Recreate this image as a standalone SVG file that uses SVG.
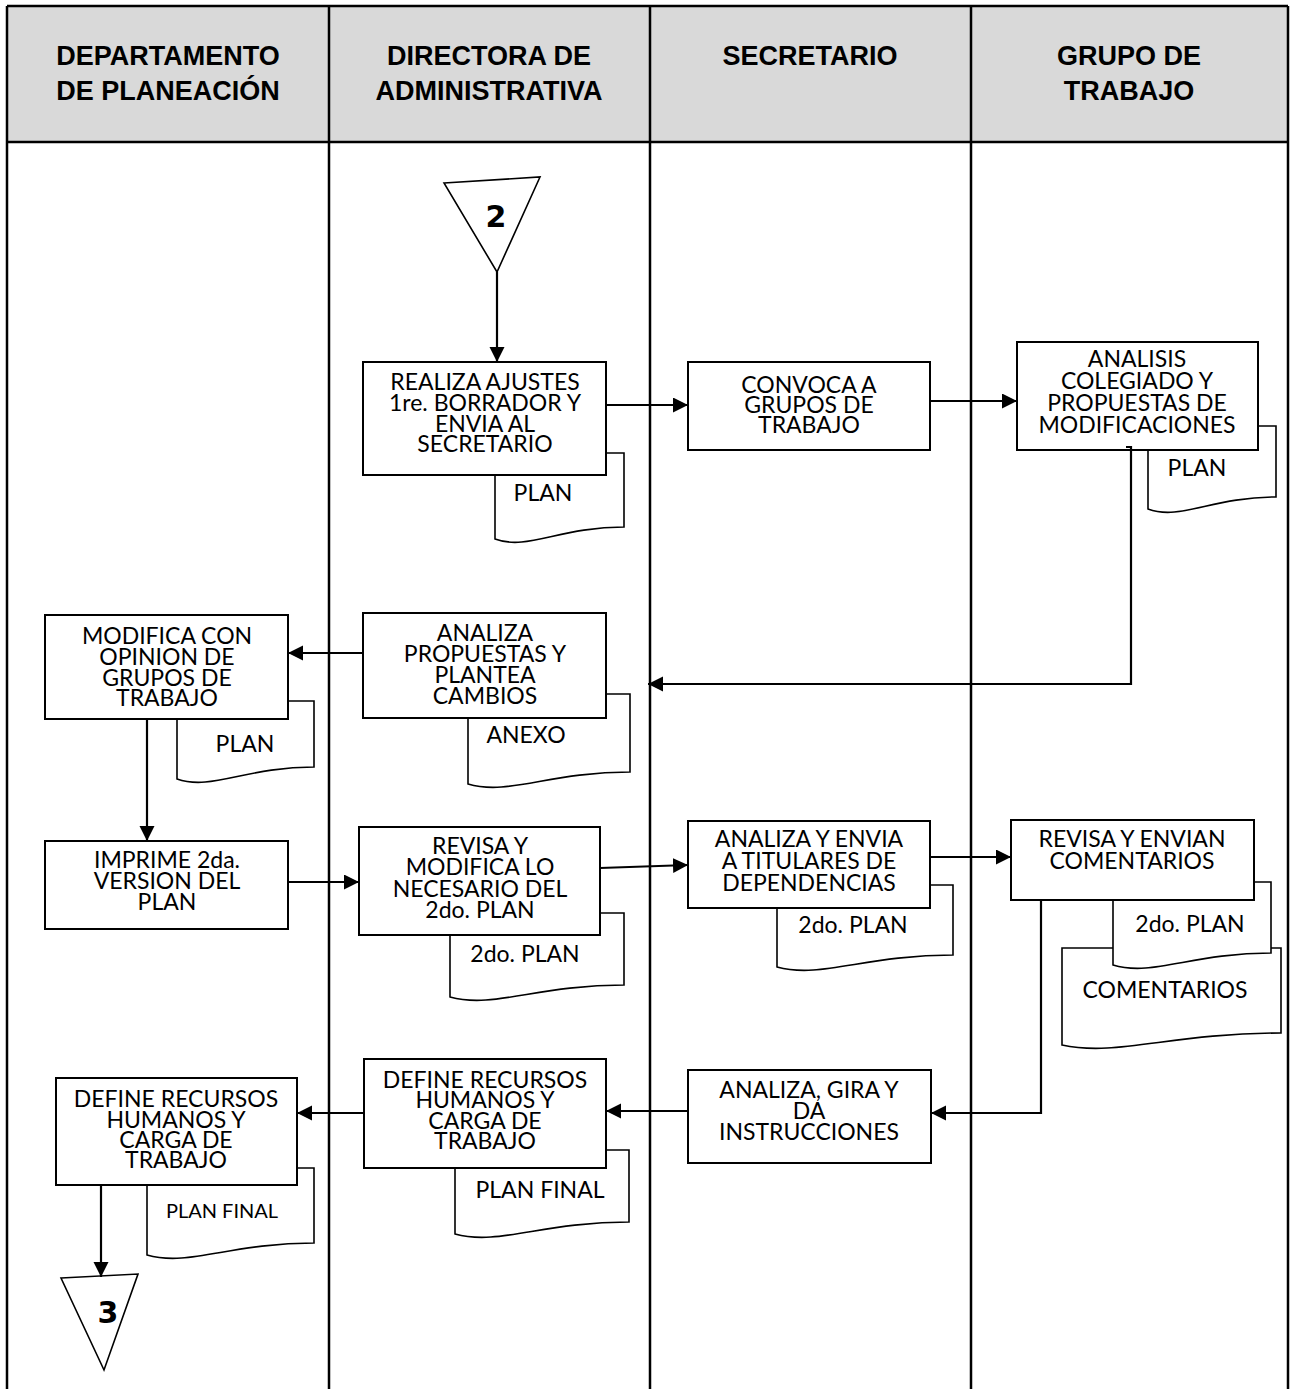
<svg xmlns="http://www.w3.org/2000/svg" width="1294" height="1389" viewBox="0 0 1294 1389">
<style>
.lane{stroke:#000;stroke-width:2.5;fill:none}
.hdr{font-family:"Liberation Sans",Arial,sans-serif;font-weight:bold;font-size:27px;fill:#000;text-anchor:middle}
.box{fill:#fff;stroke:#000;stroke-width:2}
.doc{fill:#fff;stroke:#000;stroke-width:1.6}
.t{font-family:Lato,"Open Sans",sans-serif;font-size:23px;fill:#000;text-anchor:middle}
.t2{font-family:Lato,"Open Sans",sans-serif;font-size:20px;fill:#000;text-anchor:middle}
.num{font-family:"DejaVu Sans",sans-serif;font-weight:bold;font-size:30px;fill:#000;text-anchor:middle}
.tri{fill:#fff;stroke:#000;stroke-width:1.6}
.con{fill:none;stroke:#000;stroke-width:2.2}
</style>
<defs>
<marker id="ah" markerUnits="userSpaceOnUse" markerWidth="16" markerHeight="16" refX="15" refY="7.5" orient="auto">
<path d="M0,0 L15,7.5 L0,15 z" fill="#000"/>
</marker>
</defs>
<rect width="1294" height="1389" fill="#fff"/>
<g id="table">
<rect x="7" y="6" width="1281" height="136" fill="#d9d9d9"/>
<path class="lane" d="M7,6 H1288 M7,142 H1288 M7,6 V1389 M329,6 V1389 M650,6 V1389 M971,6 V1389 M1288,6 V1389"/>
<text class="hdr" x="168" y="65">DEPARTAMENTO</text>
<text class="hdr" x="168" y="100">DE PLANEACIÓN</text>
<text class="hdr" x="489" y="65">DIRECTORA DE</text>
<text class="hdr" x="489" y="100">ADMINISTRATIVA</text>
<text class="hdr" x="810" y="65">SECRETARIO</text>
<text class="hdr" x="1129" y="65">GRUPO DE</text>
<text class="hdr" x="1129" y="100">TRABAJO</text>
</g>
<g id="conn2">
<polygon class="tri" points="444,183 540,177 497,272"/>
<text class="num" x="496" y="227">2</text>
</g>
<g id="conn3">
<polygon class="tri" points="61,1278 138,1274 104,1370"/>
<text class="num" x="108" y="1323">3</text>
</g>
<g id="documents">
<g id="doc-plan-1"><path class="doc" d="M495,453 H624 V527 C559.5,527 527.3,551 495,539 Z"/><text class="t" x="543" y="501">PLAN</text></g>
<g id="doc-plan-2"><path class="doc" d="M1148,426 H1276 V497 C1212,497 1180,521 1148,509 Z"/><text class="t" x="1197" y="476">PLAN</text></g>
<g id="doc-plan-3"><path class="doc" d="M177,701 H314 V767 C245.5,767 211.3,791 177,779 Z"/><text class="t" x="245" y="752">PLAN</text></g>
<g id="doc-anexo"><path class="doc" d="M468,694 H630 V772 C549,772 508.5,796 468,784 Z"/><text class="t" x="526" y="743">ANEXO</text></g>
<g id="doc-2do-1"><path class="doc" d="M450,913 H624 V985 C537,985 493.5,1009 450,997 Z"/><text class="t" x="525" y="962">2do. PLAN</text></g>
<g id="doc-2do-2"><path class="doc" d="M777,885 H953 V955 C865,955 821,979 777,967 Z"/><text class="t" x="853" y="933">2do. PLAN</text></g>
<g id="doc-comentarios"><path class="doc" d="M1062,948 H1281 V1033 C1171.5,1033 1116.8,1057 1062,1045 Z"/><text class="t" x="1165" y="998">COMENTARIOS</text></g>
<g id="doc-2do-3"><path class="doc" d="M1113,882 H1271 V953 C1192,953 1152.5,977 1113,965 Z"/><text class="t" x="1190" y="932">2do. PLAN</text></g>
<g id="doc-final-1"><path class="doc" d="M455,1150 H629 V1222 C542,1222 498.5,1246 455,1234 Z"/><text class="t" x="540" y="1198">PLAN FINAL</text></g>
<g id="doc-final-2"><path class="doc" d="M147,1168 H314 V1243 C230.5,1243 188.8,1267 147,1255 Z"/><text class="t2" x="222" y="1218">PLAN FINAL</text></g>
</g>
<g id="n-realiza"><rect class="box" x="363" y="362" width="243" height="113"/>
<text class="t" x="485" y="390">REALIZA AJUSTES</text><text class="t" x="485" y="411">1re. BORRADOR Y</text><text class="t" x="485" y="432">ENVIA AL</text><text class="t" x="485" y="452">SECRETARIO</text></g>
<g id="n-convoca"><rect class="box" x="688" y="362" width="242" height="88"/>
<text class="t" x="809" y="393">CONVOCA A</text><text class="t" x="809" y="413">GRUPOS DE</text><text class="t" x="809" y="433">TRABAJO</text></g>
<g id="n-analisis"><rect class="box" x="1017" y="342" width="241" height="108"/>
<text class="t" x="1137" y="367">ANALISIS</text><text class="t" x="1137" y="389">COLEGIADO Y</text><text class="t" x="1137" y="411">PROPUESTAS DE</text><text class="t" x="1137" y="433">MODIFICACIONES</text></g>
<g id="n-analiza-propuestas"><rect class="box" x="363" y="613" width="243" height="105"/>
<text class="t" x="485" y="641">ANALIZA</text><text class="t" x="485" y="662">PROPUESTAS Y</text><text class="t" x="485" y="683">PLANTEA</text><text class="t" x="485" y="704">CAMBIOS</text></g>
<g id="n-modifica"><rect class="box" x="45" y="615" width="243" height="104"/>
<text class="t" x="167" y="644">MODIFICA CON</text><text class="t" x="167" y="665">OPINION DE</text><text class="t" x="167" y="686">GRUPOS DE</text><text class="t" x="167" y="706">TRABAJO</text></g>
<g id="n-imprime"><rect class="box" x="45" y="841" width="243" height="88"/>
<text class="t" x="167" y="868">IMPRIME 2da.</text><text class="t" x="167" y="889">VERSION DEL</text><text class="t" x="167" y="910">PLAN</text></g>
<g id="n-revisa"><rect class="box" x="359" y="827" width="241" height="108"/>
<text class="t" x="480" y="854">REVISA Y</text><text class="t" x="480" y="875">MODIFICA LO</text><text class="t" x="480" y="897">NECESARIO DEL</text><text class="t" x="480" y="918">2do. PLAN</text></g>
<g id="n-analiza-envia"><rect class="box" x="688" y="821" width="242" height="87"/>
<text class="t" x="809" y="847">ANALIZA Y ENVIA</text><text class="t" x="809" y="869">A TITULARES DE</text><text class="t" x="809" y="891">DEPENDENCIAS</text></g>
<g id="n-revisa-envian"><rect class="box" x="1011" y="820" width="243" height="80"/>
<text class="t" x="1132" y="847">REVISA Y ENVIAN</text><text class="t" x="1132" y="869">COMENTARIOS</text></g>
<g id="n-analiza-gira"><rect class="box" x="688" y="1070" width="243" height="93"/>
<text class="t" x="809" y="1098">ANALIZA, GIRA Y</text><text class="t" x="809" y="1119">DA</text><text class="t" x="809" y="1140">INSTRUCCIONES</text></g>
<g id="n-define-dir"><rect class="box" x="364" y="1059" width="242" height="109"/>
<text class="t" x="485" y="1088">DEFINE RECURSOS</text><text class="t" x="485" y="1108">HUMANOS Y</text><text class="t" x="485" y="1129">CARGA DE</text><text class="t" x="485" y="1149">TRABAJO</text></g>
<g id="n-define-dep"><rect class="box" x="56" y="1078" width="241" height="107"/>
<text class="t" x="176" y="1107">DEFINE RECURSOS</text><text class="t" x="176" y="1128">HUMANOS Y</text><text class="t" x="176" y="1148">CARGA DE</text><text class="t" x="176" y="1168">TRABAJO</text></g>
<g id="connectors">
<path class="con" marker-end="url(#ah)" d="M497,272 V362"/>
<path class="con" marker-end="url(#ah)" d="M606,405 H688"/>
<path class="con" marker-end="url(#ah)" d="M930,401 H1017"/>
<path class="con" marker-end="url(#ah)" d="M1126,447 H1131 V684 H648"/>
<path class="con" marker-end="url(#ah)" d="M363,653 H288"/>
<path class="con" marker-end="url(#ah)" d="M147,719 V841"/>
<path class="con" marker-end="url(#ah)" d="M288,882 H359"/>
<path class="con" marker-end="url(#ah)" d="M600,868 L688,865"/>
<path class="con" marker-end="url(#ah)" d="M930,857 H1011"/>
<path class="con" marker-end="url(#ah)" d="M1041,900 V1113 H931"/>
<path class="con" marker-end="url(#ah)" d="M688,1111 H606"/>
<path class="con" marker-end="url(#ah)" d="M364,1113 H297"/>
<path class="con" marker-end="url(#ah)" d="M101,1185 V1277"/>
</g>
</svg>
